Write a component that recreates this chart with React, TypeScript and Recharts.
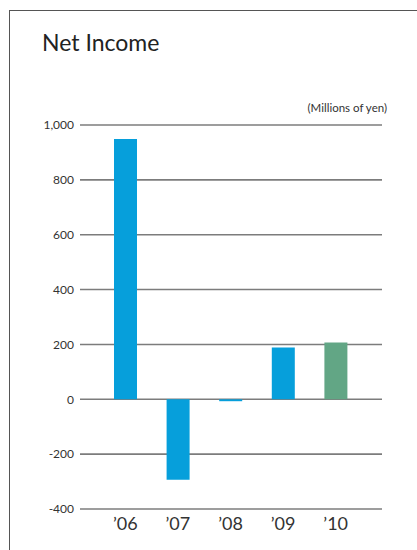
import { BarChart, Bar, Cell, XAxis, YAxis, CartesianGrid } from 'recharts';

// fiscal years and net income, millions of yen
const years = ['\u201906', '\u201907', '\u201908', '\u201909', '\u201910'];
const netIncome = [949, -293, -7, 189, 207];
const yTicks = [-400, -200, 0, 200, 400, 600, 800, 1000];

const BLUE = '#069fdb';
const GREEN = '#62a685';
const GRID = '#7c7c7c';
const FONT = "Lato, 'Open Sans', sans-serif";

const chartData = years.map((year, i) => ({ year, value: netIncome[i] }));

const formatTick = (v: number) => v.toLocaleString('en-US');

export default function App() {
  return (
    <div
      style={{
        position: 'fixed',
        top: 0,
        left: 0,
        width: 417,
        height: 550,
        background: '#fff',
        fontFamily: FONT,
        overflow: 'hidden',
      }}
    >
      {/* panel frame: top and left rules only */}
      <div
        style={{
          position: 'absolute',
          left: 9,
          top: 10,
          right: 0,
          bottom: 0,
          borderTop: '1.5px solid #555',
          borderLeft: '1.5px solid #555',
        }}
      />
      <div
        style={{
          position: 'absolute',
          left: 42,
          top: 28,
          fontSize: 23,
          lineHeight: '29px',
          color: '#222',
          whiteSpace: 'nowrap',
        }}
      >
        Net Income
      </div>
      <div
        style={{
          position: 'absolute',
          right: 30,
          top: 101,
          fontSize: 11.5,
          lineHeight: '14px',
          color: '#333',
          whiteSpace: 'nowrap',
        }}
      >
        (Millions of yen)
      </div>
      <div style={{ position: 'absolute', left: 0, top: 0 }}>
        <BarChart
          width={417}
          height={550}
          data={chartData}
          margin={{ top: 125, right: 35, bottom: 11, left: 0 }}
        >
          <CartesianGrid vertical={false} stroke={GRID} strokeWidth={1.6} />
          <XAxis
            dataKey="year"
            axisLine={false}
            tickLine={false}
            height={30}
            padding={{ left: 19, right: 20 }}
            tick={{ fontSize: 18, fill: '#333', fontFamily: FONT }}
            interval={0}
          />
          <YAxis
            domain={[-400, 1000]}
            ticks={yTicks}
            axisLine={false}
            tickLine={false}
            width={80}
            tickMargin={0}
            tickFormatter={formatTick}
            tick={{ fontSize: 12, fill: '#333', fontFamily: FONT }}
          />
          <Bar dataKey="value" barSize={23} isAnimationActive={false}>
            {chartData.map((d, i) => (
              <Cell key={d.year} fill={i === chartData.length - 1 ? GREEN : BLUE} />
            ))}
          </Bar>
        </BarChart>
      </div>
    </div>
  );
}
